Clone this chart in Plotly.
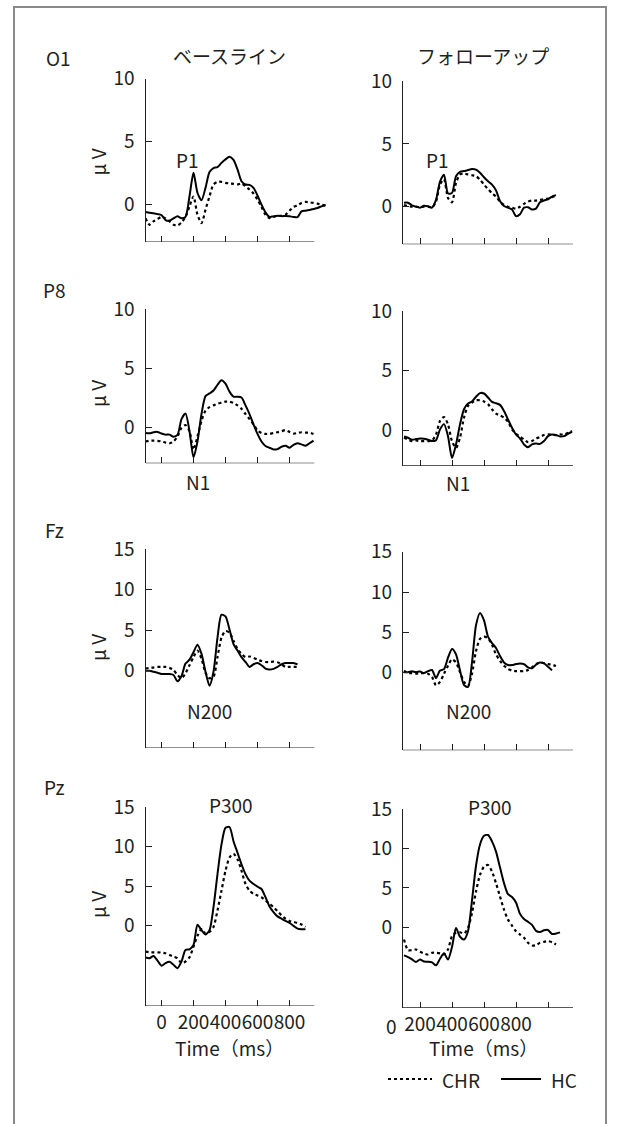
import plotly.graph_objects as go

# ---------------- data (µV), sampled every 25 ms ----------------
STEP_MS = 25
# Left column (ベースライン): time axis where first tick = 0 ms
O1_BASE_START = -100
O1_BASE_HC = [-0.61, -0.67, -0.72, -0.78, -0.86, -1.25, -1.3, -1.12, -0.96, -1.1, -1.0, 0.64, 2.51, 0.9, 0.32,
              1.31, 2.57, 2.89, 2.97, 3.3, 3.58, 3.78, 3.53, 2.78, 1.84, 1.58, 1.55, 1.31, 0.7, -0.03, -0.64,
              -1.0, -0.96, -0.91, -0.94, -0.94, -0.96, -1.0, -1.02, -0.56, -0.51, -0.45, -0.37, -0.29, -0.16, -0.05]
O1_BASE_CHR = [-1.1, -1.63, -1.36, -1.18, -1.0, -1.12, -1.36, -1.63, -1.68, -1.44, -1.0, -0.16, 0.62, -0.83, -1.5,
               -0.43, 0.64, 1.58, 1.79, 1.79, 1.71, 1.66, 1.63, 1.58, 1.66, 1.44, 1.18, 0.86, 0.37, -0.21, -0.83,
               -1.1, -1.0, -0.91, -0.91, -0.83, -0.51, -0.21, -0.08, 0.11, 0.19, 0.16, 0.11, 0.05, -0.03, -0.11]

P8_BASE_START = -100
P8_BASE_HC = [-0.44, -0.47, -0.38, -0.35, -0.49, -0.58, -0.58, -0.75, -0.6, 0.73, 1.2, -0.29, -2.5, -1.16, 1.16,
              2.67, 2.9, 3.14, 3.63, 4.01, 3.72, 3.05, 2.62, 2.62, 2.56, 1.89, 1.16, 0.29, -0.52, -1.16, -1.54,
              -1.69, -1.83, -1.8, -1.6, -1.51, -1.69, -1.45, -1.31, -1.4, -1.51, -1.31, -1.08]
P8_BASE_CHR = [-1.16, -1.1, -1.08, -1.1, -1.16, -1.25, -1.31, -1.16, -0.73, 0.0, 0.23, -0.29, -1.85, -0.73, 0.58,
               1.45, 1.74, 1.89, 2.03, 2.12, 2.21, 2.21, 2.09, 1.89, 1.6, 1.16, 0.73, 0.29, -0.23, -0.44, -0.52,
               -0.52, -0.44, -0.38, -0.29, -0.2, -0.35, -0.49, -0.44, -0.38, -0.41, -0.41, -0.52]

FZ_BASE_START = -100
FZ_BASE_HC = [-0.04, -0.04, -0.16, -0.28, -0.44, -0.44, -0.44, -0.56, -1.35, -0.69, 0.85, 1.33, 2.26, 3.19, 2.06,
              -0.16, -1.9, -0.16, 4.07, 6.9, 6.7, 5.08, 3.27, 2.46, 1.65, 1.05, 0.44, 0.77, 0.93, 0.65, 0.24,
              0.12, 0.2, 0.44, 0.77, 0.93, 0.93, 0.93, 0.77]
FZ_BASE_CHR = [0.24, 0.32, 0.36, 0.44, 0.44, 0.44, 0.32, 0.04, -0.56, -0.97, -0.36, 0.65, 1.65, 2.46, 1.45,
               -0.28, -0.97, -0.77, 1.65, 4.07, 4.88, 4.68, 3.67, 2.66, 2.06, 1.65, 1.73, 1.57, 1.33, 1.17, 1.05,
               1.05, 1.09, 1.01, 0.77, 0.44, 0.44, 0.44, 0.44]

PZ_BASE_START = -100
PZ_BASE_HC = [-4.06, -4.14, -3.85, -4.44, -5.1, -4.77, -4.6, -4.98, -5.4, -4.56, -3.1, -3.01, -2.47, 0.1, -0.59,
              -1.13, -0.59, 2.34, 6.53, 10.29, 12.4, 12.5, 10.7, 9.25, 7.78, 6.53, 5.69, 5.27, 4.94, 4.64, 3.6,
              2.43, 1.72, 1.17, 0.88, 0.59, 0.33, -0.04, -0.38, -0.46, -0.46]
PZ_BASE_CHR = [-3.31, -3.39, -3.39, -3.39, -3.43, -3.51, -3.72, -3.93, -4.14, -4.77, -4.56, -4.02, -2.68, -1.3,
               -0.45, -1.0, -0.79, -0.17, 1.92, 4.44, 6.95, 8.62, 9.1, 8.41, 6.95, 5.27, 4.44, 4.02, 3.81, 3.6,
               3.18, 2.76, 2.34, 1.84, 1.3, 0.88, 0.59, 0.46, 0.33, 0.13, -0.17]

# Right column (フォローアップ): time axis as labelled (first tick = 200 ms)
O1_FOLLOW_START = 100
O1_FOLLOW_HC = [0.32, 0.32, 0.11, 0.0, -0.08, 0.08, 0.03, -0.08, 0.54, 2.0, 2.55, 1.05, 1.1, 2.43, 2.78, 2.84,
                2.92, 3.0, 2.95, 2.7, 2.35, 2.03, 1.76, 1.3, 0.46, 0.05, -0.08, -0.22, -0.75, -0.6, -0.08, -0.05,
                -0.22, -0.15, 0.35, 0.49, 0.59, 0.81, 0.92]
O1_FOLLOW_CHR = [0.14, 0.05, 0.0, 0.0, -0.05, 0.0, 0.0, -0.05, 0.41, 1.76, 2.2, 0.7, 0.35, 1.89, 2.57, 2.65,
                 2.57, 2.51, 2.43, 2.16, 1.76, 1.41, 1.08, 0.81, 0.41, 0.14, 0.0, -0.08, -0.16, 0.0, 0.22, 0.41,
                 0.49, 0.49, 0.54, 0.59, 0.65, 0.76, 0.89]

P8_FOLLOW_START = 100
P8_FOLLOW_HC = [-0.54, -0.65, -0.82, -0.76, -0.71, -0.73, -0.82, -0.93, -0.85, 0.06, 0.5, -0.51, -2.35, -1.21,
                0.48, 1.75, 2.23, 2.4, 2.8, 3.11, 3.08, 2.74, 2.37, 2.26, 2.12, 1.61, 0.9, 0.2, -0.37, -0.71,
                -1.21, -1.44, -1.21, -1.13, -1.16, -0.93, -0.51, -0.37, -0.42, -0.54, -0.51, -0.31, -0.14]
P8_FOLLOW_CHR = [-0.65, -0.79, -0.93, -0.88, -0.93, -0.93, -0.93, -0.88, -0.37, 0.76, 1.1, 0.48, -0.93, -1.5,
                 -0.65, 1.05, 2.03, 2.32, 2.51, 2.51, 2.4, 2.18, 1.75, 1.38, 1.24, 1.05, 0.71, 0.06, -0.31, -0.56,
                 -0.79, -1.02, -0.93, -0.71, -0.59, -0.42, -0.37, -0.4, -0.42, -0.37, -0.37, -0.23, -0.08]

FZ_FOLLOW_START = 100
FZ_FOLLOW_HC = [0.08, 0.08, 0.2, 0.08, 0.16, -0.04, 0.2, 0.35, -0.65, 0.28, 0.45, 1.88, 2.95, 2.28, 0.28, -1.52,
                -1.75, 1.28, 5.88, 7.4, 6.48, 4.48, 3.68, 3.08, 2.08, 1.28, 0.96, 0.96, 1.08, 1.16, 1.08, 0.68,
                0.56, 1.0, 1.28, 1.16, 0.76, 0.3]
FZ_FOLLOW_CHR = [0.28, -0.04, -0.04, -0.12, -0.04, -0.04, -0.12, -0.52, -1.55, -1.12, -0.12, 0.88, 1.68, 1.28,
                 0.08, -1.12, -1.64, -0.12, 2.68, 4.2, 4.48, 4.28, 3.48, 2.28, 1.48, 0.88, 0.48, 0.28, 0.2, 0.2,
                 0.2, 0.36, 0.68, 1.08, 1.28, 1.2, 1.08, 1.0, 0.84]

PZ_FOLLOW_START = 100
PZ_FOLLOW_HC = [-3.57, -3.78, -4.08, -4.41, -4.1, -4.35, -4.37, -4.45, -4.83, -3.99, -3.3, -4.1, -2.5, -0.1, -1.2,
                -1.55, -0.5, 3.4, 7.8, 10.5, 11.6, 11.7, 10.9, 9.6, 7.6, 5.6, 4.2, 3.85, 3.15, 1.7, 1.05, 0.7,
                0.3, -0.45, -0.6, -0.38, -0.35, -0.85, -0.8, -0.65]
PZ_FOLLOW_CHR = [-1.55, -2.9, -2.9, -2.82, -3.11, -3.32, -3.45, -3.24, -3.24, -3.32, -3.45, -2.82, -1.13, -0.71,
                 -0.63, -0.8, -0.08, 1.81, 4.54, 6.64, 7.69, 7.9, 7.06, 5.59, 3.9, 2.23, 0.97, 0.21, -0.5, -0.92,
                 -1.34, -1.97, -2.31, -2.27, -1.97, -1.85, -1.76, -1.89, -2.18]

ELECTRODES = ["O1", "P8", "Fz", "Pz"]
CONDITIONS = ["ベースライン", "フォローアップ"]
SERIES_NAMES = ["CHR", "HC"]
LEFT_TICKS = [0, 200, 400, 600, 800]
LEFT_TICKTEXT = ["0", "200", "400", "600", "800"]
RIGHT_TICKS = [200, 400, 600, 800, 1000]
RIGHT_TICKTEXT = ["200", "400", "600", "800", ""]
Y_TICKS_SMALL = [0, 5, 10]
Y_TICKS_LARGE = [0, 5, 10, 15]
COMPONENTS = {"O1": "P1", "P8": "N1", "Fz": "N200", "Pz": "P300"}

# ---------------- layout helpers ----------------
W, H = 620, 1124
FONT = "Noto Sans CJK JP"
INK = "#231f20"
FS = 19


def fx(p):
    return p / W


def fy(p):
    return 1 - p / H


def times(start, n):
    return [start + STEP_MS * i for i in range(n)]


LEFT_XR = [-100, 1050]
RIGHT_XR = [93.75, 1175]
panels = [
    ("O1", 0, O1_BASE_HC, O1_BASE_CHR, O1_BASE_START, LEFT_XR, 955, [-3, 10], Y_TICKS_SMALL, 78.7, 242.0),
    ("O1", 1, O1_FOLLOW_HC, O1_FOLLOW_CHR, O1_FOLLOW_START, RIGHT_XR, 1156, [-3, 10], Y_TICKS_SMALL, 81.3, 244.3),
    ("P8", 0, P8_BASE_HC, P8_BASE_CHR, P8_BASE_START, LEFT_XR, 955, [-3, 10], Y_TICKS_SMALL, 309.3, 463.3),
    ("P8", 1, P8_FOLLOW_HC, P8_FOLLOW_CHR, P8_FOLLOW_START, RIGHT_XR, 1156, [-3, 10], Y_TICKS_SMALL, 311.3, 465.7),
    ("Fz", 0, FZ_BASE_HC, FZ_BASE_CHR, FZ_BASE_START, LEFT_XR, 955, [-9.6, 15], Y_TICKS_LARGE, 549.3, 748.0),
    ("Fz", 1, FZ_FOLLOW_HC, FZ_FOLLOW_CHR, FZ_FOLLOW_START, RIGHT_XR, 1156, [-9.6, 15], Y_TICKS_LARGE, 551.7, 750.3),
    ("Pz", 0, PZ_BASE_HC, PZ_BASE_CHR, PZ_BASE_START, LEFT_XR, 955, [-10.2, 15], Y_TICKS_LARGE, 807.3, 1006.0),
    ("Pz", 1, PZ_FOLLOW_HC, PZ_FOLLOW_CHR, PZ_FOLLOW_START, RIGHT_XR, 1156, [-10.2, 15], Y_TICKS_LARGE, 809.0, 1007.7),
]
COL_LEFT_PX = [145.5, 403.0]
PX_PER_MS = 0.16

fig = go.Figure()
layout = dict(
    template="none",
    width=W, height=H, autosize=False,
    margin=dict(l=0, r=0, t=0, b=0, pad=0, autoexpand=False),
    paper_bgcolor="white", plot_bgcolor="rgba(0,0,0,0)",
    font=dict(family=FONT, size=FS, color=INK),
    showlegend=False,
)
shapes = []
annotations = []

for i, (el, col, hc, chr_, start, xr, xend, yr, yt, top, bot) in enumerate(panels, start=1):
    xa, ya = f"x{i}", f"y{i}"
    sfx = "" if i == 1 else str(i)
    left_px = COL_LEFT_PX[col]
    right_px = left_px + (xr[1] - xr[0]) * PX_PER_MS
    bottom_row = el == "Pz"
    layout[f"xaxis{sfx}"] = dict(
        domain=[fx(left_px), fx(right_px)], range=xr, anchor=ya, automargin=False,
        showline=False, showgrid=False, zeroline=False,
        ticks="inside", ticklen=6, tickwidth=1.2, tickcolor=INK,
        tickvals=LEFT_TICKS if col == 0 else RIGHT_TICKS,
        ticktext=LEFT_TICKTEXT if col == 0 else RIGHT_TICKTEXT,
        showticklabels=bottom_row, ticklabelstandoff=3, tickangle=0,
        tickfont=dict(family=FONT, size=FS, color=INK),
    )
    layout[f"yaxis{sfx}"] = dict(
        domain=[fy(bot), fy(top)], range=yr, anchor=xa, automargin=False,
        showline=True, linecolor=INK, linewidth=1.2,
        showgrid=False, zeroline=False,
        ticks="inside", ticklen=6, tickwidth=1.2, tickcolor=INK,
        tickvals=yt, ticklabelstandoff=6, tickangle=0,
        tickfont=dict(family=FONT, size=FS, color=INK),
    )
    shapes.append(dict(type="line", xref=xa, yref=ya, x0=xr[0], x1=xend, y0=yr[0], y1=yr[0],
                       line=dict(color=INK, width=1.2), layer="above"))
    fig.add_trace(go.Scatter(
        x=times(start, len(chr_)), y=chr_, xaxis=xa, yaxis=ya, mode="lines",
        name=SERIES_NAMES[0], showlegend=False,
        line=dict(color="black", width=2.2, dash="dot", shape="spline", smoothing=0.7),
        hoverinfo="skip"))
    fig.add_trace(go.Scatter(
        x=times(start, len(hc)), y=hc, xaxis=xa, yaxis=ya, mode="lines",
        name=SERIES_NAMES[1], showlegend=False,
        line=dict(color="black", width=2.0, shape="spline", smoothing=0.7),
        hoverinfo="skip"))


def note(text, x, y, size=FS, angle=0, xanchor="center"):
    annotations.append(dict(text=text, x=fx(x), y=fy(y), xref="paper", yref="paper",
                            xanchor=xanchor, yanchor="middle", showarrow=False, textangle=angle,
                            font=dict(family=FONT, size=size, color=INK)))


for el, ypx, uvy in [("O1", 57.5, 162.5), ("P8", 289, 394), ("Fz", 529, 648), ("Pz", 786, 905)]:
    note(el, 59 if el == "O1" else 54, ypx)
    note("μ V", 97, uvy, angle=-90)

note(CONDITIONS[0], 229.5, 56)
note(CONDITIONS[1], 483.5, 56)

note(COMPONENTS["O1"], 187, 160)
note(COMPONENTS["O1"], 437.5, 160)
note(COMPONENTS["P8"], 198, 481.5)
note(COMPONENTS["P8"], 457.5, 483)
note(COMPONENTS["Fz"], 210, 710)
note(COMPONENTS["Fz"], 468.5, 710)
note(COMPONENTS["Pz"], 231, 804)
note(COMPONENTS["Pz"], 489.5, 806)

note("Time（ms）", 229.5, 1047.5)
note("Time（ms）", 483.5, 1047.5)
note("0", 391, 1025)

# legend (drawn as keys + labels)
LEG_Y = 1079
shapes.append(dict(type="line", xref="paper", yref="paper", x0=fx(388), x1=fx(432), y0=fy(LEG_Y), y1=fy(LEG_Y),
                   line=dict(color="black", width=2.2, dash="dot")))
note(SERIES_NAMES[0], 440, LEG_Y, xanchor="left")
shapes.append(dict(type="line", xref="paper", yref="paper", x0=fx(501), x1=fx(541), y0=fy(LEG_Y), y1=fy(LEG_Y),
                   line=dict(color="black", width=2.0)))
note(SERIES_NAMES[1], 549, LEG_Y, xanchor="left")

# outer frame (open at the bottom, continues past the page)
shapes.append(dict(type="path", xref="paper", yref="paper",
                   path=f"M {fx(14)} {fy(1200)} L {fx(14)} {fy(7)} L {fx(606)} {fy(7)} L {fx(606)} {fy(1200)}",
                   line=dict(color="#8a8a8a", width=2)))

layout["shapes"] = shapes
layout["annotations"] = annotations
fig.update_layout(**layout)
fig.write_html("out.html", config={"displayModeBar": False},
               post_script="document.body.style.margin='0';document.body.style.overflow='hidden';")
